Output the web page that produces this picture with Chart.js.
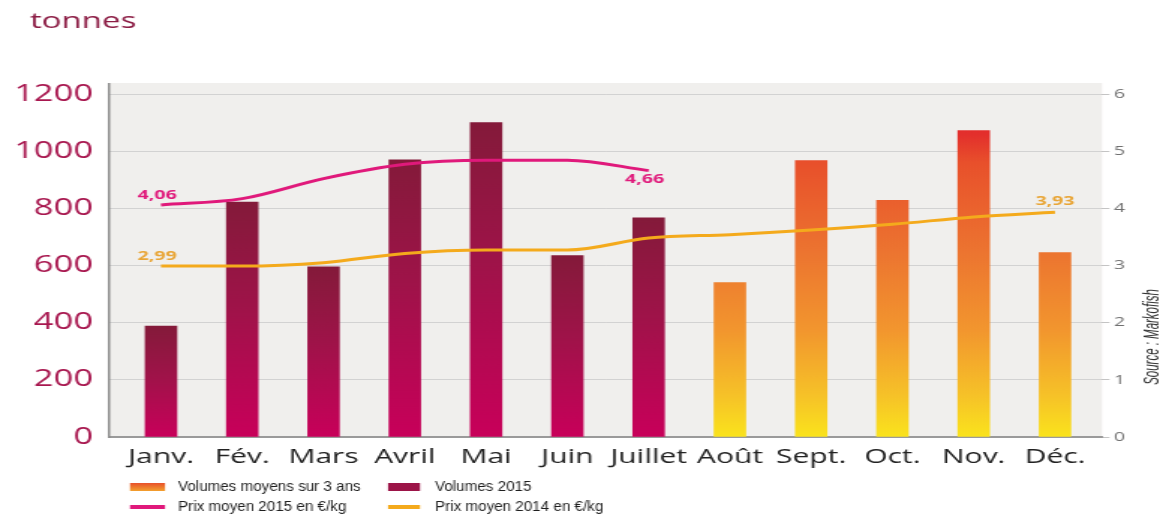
<!DOCTYPE html>
<html><head><meta charset="utf-8">
<script src="https://cdn.jsdelivr.net/npm/chart.js@4.4.1/dist/chart.umd.min.js"></script>
<style>
html,body{margin:0;padding:0;background:#fff;overflow:hidden}
canvas{display:block}
</style>
</head><body>
<canvas id="c" width="784" height="515" style="width:1175px;height:515px;display:block"></canvas>
<script>
// ---- data ----
const months = ['Janv.','Fév.','Mars','Avril','Mai','Juin','Juillet','Août','Sept.','Oct.','Nov.','Déc.'];
const volumes2015 = [388, 822, 595, 970, 1100, 635, 767, null, null, null, null, null];
const volumesMoyens3ans = [null, null, null, null, null, null, null, 540, 967, 828, 1072, 645];
const prix2015 = [4.06, 4.17, 4.52, 4.77, 4.84, 4.84, 4.66];
const prix2014 = [2.99, 2.99, 3.05, 3.21, 3.27, 3.27, 3.48, 3.54, 3.62, 3.72, 3.85, 3.93];
const seriesNames = ['Volumes moyens sur 3 ans', 'Volumes 2015', 'Prix moyen 2015 en €/kg', 'Prix moyen 2014 en €/kg'];
const yTitle = 'tonnes';
const sourceText = 'Source : Markofish';

// ---- geometry helpers (canvas is drawn at 784 px wide and shown 1175 px wide) ----
const K = 784 / 1175;
const fx = v => v * K;
const AREA_LEFT = fx(109), AREA_RIGHT = fx(1102);
const FIRST_C = fx(161), LAST_C = fx(1055);
const UNIT = (LAST_C - FIRST_C) / 11;
const X_MIN = -(FIRST_C - AREA_LEFT) / UNIT;
const X_MAX = 11 + (AREA_RIGHT - LAST_C) / UNIT;
const BG_TOP = 83;

const toPts = arr => arr.map((v, i) => ({x: i, y: v})).filter(p => p.y !== null);

function grad2015(c) {
  const ch = c.chart, ys = ch.scales && ch.scales.y;
  if (!ch.chartArea || !ys || !c.raw) return '#a0134a';
  const top = ys.getPixelForValue(c.raw.y), bot = ys.getPixelForValue(0);
  const g = ch.ctx.createLinearGradient(0, top, 0, bot);
  g.addColorStop(0, '#841a3a');
  g.addColorStop(0.45, '#9f1349');
  g.addColorStop(1, '#c8005a');
  return g;
}
function gradMoyens(c) {
  const ch = c.chart, ys = ch.scales && ch.scales.y;
  if (!ch.chartArea || !ys) return '#ee7a2e';
  const top = ys.getPixelForValue(1200), bot = ys.getPixelForValue(0);
  const g = ch.ctx.createLinearGradient(0, top, 0, bot);
  g.addColorStop(0, '#e01e2e');
  g.addColorStop(0.12, '#e3302c');
  g.addColorStop(0.2, '#e8502b');
  g.addColorStop(0.46, '#ec7430');
  g.addColorStop(0.69, '#f2962e');
  g.addColorStop(0.88, '#f6c228');
  g.addColorStop(1, '#fae31c');
  return g;
}

const fmt = v => v.toFixed(2).replace('.', ',');
// labels shown on the price lines: [datasetIndex, pointIndex, dx, dy]
const priceLabels = [[0, 0, -2.6, -10], [0, 6, -2.7, 9], [1, 0, -2.6, -10], [1, 11, 0, -11]];

function narrowText(ctx, text, x, y, sx) {
  ctx.save();
  ctx.translate(x, y);
  ctx.scale(sx, 1);
  ctx.fillText(text, 0, 0);
  ctx.restore();
}

const decor = {
  id: 'decor',
  beforeDraw(chart) {
    const {ctx, chartArea: a} = chart;
    ctx.save();
    ctx.fillStyle = '#ffffff';
    ctx.fillRect(0, 0, chart.width, chart.height);
    ctx.fillStyle = '#f0efed';
    ctx.fillRect(a.left, BG_TOP, a.right - a.left, a.bottom - BG_TOP);
    ctx.restore();
  },
  beforeDatasetsDraw(chart) {
    const {ctx, chartArea: a} = chart;
    ctx.save();
    ctx.strokeStyle = '#8c8c8c';
    ctx.lineWidth = 1.5;
    ctx.beginPath();
    ctx.moveTo(a.left, BG_TOP);
    ctx.lineTo(a.left, a.bottom + 1);
    ctx.stroke();
    ctx.restore();
  },
  afterDraw(chart) {
    const {ctx} = chart;
    ctx.save();
    // title
    ctx.fillStyle = '#8c1d45';
    ctx.font = '22px "Open Sans"';
    ctx.textAlign = 'left';
    ctx.textBaseline = 'alphabetic';
    ctx.fillText(yTitle, fx(30), 28);

    // value labels
    ctx.font = 'bold 13px "Open Sans"';
    ctx.textAlign = 'center';
    ctx.textBaseline = 'middle';
    priceLabels.forEach(([di, pi, dx, dy]) => {
      const ds = chart.data.datasets[di];
      const el = chart.getDatasetMeta(di).data[pi];
      if (!el) return;
      ctx.fillStyle = di === 0 ? '#e0197b' : '#e9a535';
      ctx.fillText(fmt(ds.data[pi].y), el.x + dx, el.y + dy);
    });

    // source (vertical)
    ctx.save();
    ctx.translate(fx(1152), 337);
    ctx.rotate(-Math.PI / 2);
    ctx.scale(0.82, 1);
    ctx.fillStyle = '#333';
    ctx.font = 'italic 14px "Liberation Sans"';
    ctx.textAlign = 'center';
    ctx.textBaseline = 'middle';
    ctx.fillText(sourceText, 0, 0);
    ctx.restore();

    // legend (2 x 2)
    ctx.font = '14px "Liberation Sans"';
    ctx.textAlign = 'left';
    ctx.textBaseline = 'middle';
    const c1 = fx(130), c2 = fx(388), w1 = fx(165) - fx(130), w2 = fx(420) - fx(388);
    const t1 = fx(178), t2 = fx(435);
    const r1 = 487, r2 = 507;
    let g = ctx.createLinearGradient(0, r1 - 4, 0, r1 + 4);
    g.addColorStop(0, '#e8502b'); g.addColorStop(1, '#f3a02e');
    ctx.fillStyle = g;
    ctx.fillRect(c1, r1 - 4, w1, 8);
    ctx.fillStyle = '#9c1448';
    ctx.fillRect(c2, r1 - 4, w2, 8);
    ctx.fillStyle = '#e0197b';
    ctx.fillRect(c1, r2 - 2, w1, 4);
    ctx.fillStyle = '#f4aa1c';
    ctx.fillRect(c2, r2 - 2, w2, 4);
    ctx.fillStyle = '#1e1e1e';
    const sx = 0.725;
    narrowText(ctx, seriesNames[0], t1, r1, sx);
    narrowText(ctx, seriesNames[1], t2, r1, sx);
    narrowText(ctx, seriesNames[2], t1, r2, sx);
    narrowText(ctx, seriesNames[3], t2, r2, sx);
    ctx.restore();
  }
};

new Chart(document.getElementById('c'), {
  type: 'bar',
  data: {
    datasets: [
      {
        type: 'line', label: seriesNames[2], data: toPts(prix2015), yAxisID: 'y2', order: 0,
        borderColor: '#e0197b', borderWidth: 3, pointRadius: 0, cubicInterpolationMode: 'monotone', fill: false
      },
      {
        type: 'line', label: seriesNames[3], data: toPts(prix2014), yAxisID: 'y2', order: 0,
        borderColor: '#f4aa1c', borderWidth: 3, pointRadius: 0, cubicInterpolationMode: 'monotone', fill: false
      },
      {
        type: 'bar', label: seriesNames[1], data: toPts(volumes2015), yAxisID: 'y', order: 1,
        backgroundColor: grad2015, barThickness: 21, grouped: false
      },
      {
        type: 'bar', label: seriesNames[0], data: toPts(volumesMoyens3ans), yAxisID: 'y', order: 1,
        backgroundColor: gradMoyens, barThickness: 21, grouped: false
      }
    ]
  },
  options: {
    responsive: false,
    devicePixelRatio: 1,
    animation: false,
    layout: {padding: {top: 94, left: 0, right: 0, bottom: 0}},
    plugins: {legend: {display: false}, tooltip: {enabled: false}},
    scales: {
      x: {
        type: 'linear', min: X_MIN, max: X_MAX, offset: false,
        afterFit: s => { s.height = 78; },
        grid: {display: false},
        border: {display: true, color: '#9a9a9a', width: 2},
        ticks: {
          stepSize: 1, autoSkip: false, maxRotation: 0, minRotation: 0, includeBounds: false,
          padding: 0, color: '#222', font: {family: 'Open Sans', size: 20},
          callback: v => (Number.isInteger(v) && months[v]) ? months[v] : ''
        }
      },
      y: {
        position: 'left', min: 0, max: 1200,
        afterFit: s => { s.width = AREA_LEFT; },
        grid: {color: '#d2d2d2', drawTicks: false},
        border: {display: false},
        ticks: {stepSize: 200, padding: AREA_LEFT - fx(93), color: '#a8174f', font: {family: 'Open Sans', size: 23},
          callback: v => String(v)}
      },
      y2: {
        position: 'right', min: 0, max: 6,
        afterFit: s => { s.width = 784 - AREA_RIGHT; },
        grid: {drawOnChartArea: false, drawTicks: true, tickLength: 5, color: '#c4c4c4'},
        border: {display: false},
        ticks: {stepSize: 1, padding: 3, color: '#707070', font: {family: 'Open Sans', size: 13},
          callback: v => String(v)}
      }
    }
  },
  plugins: [decor]
});
</script>
</body></html>
